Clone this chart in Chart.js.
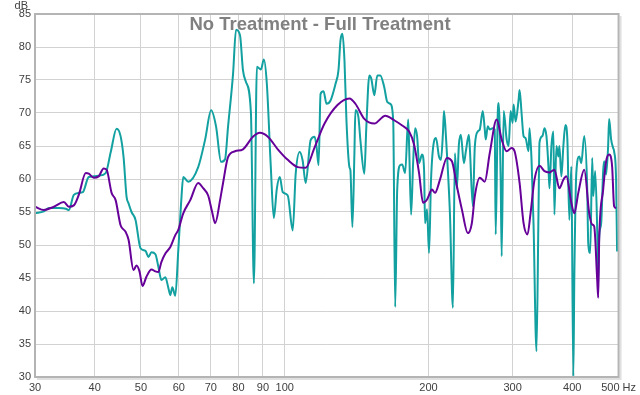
<!DOCTYPE html>
<html>
<head>
<meta charset="utf-8">
<script src="https://cdn.jsdelivr.net/npm/chart.js@4/dist/chart.umd.min.js"></script>
<style>
  body { margin: 0; background: #fff; }
</style>
</head>
<body>
<canvas id="chart1" width="640" height="395"></canvas>
<script>
const chartTitle = 'No Treatment - Full Treatment';
const yUnit = 'dB';
const xTicks = [30, 40, 50, 60, 70, 80, 90, 100, 200, 300, 400, 500];
const xTickLabels = ['30', '40', '50', '60', '70', '80', '90', '100', '200', '300', '400', '500 Hz'];

// no treatment minus full treatment, raw
const rawHz = [30.00, 31.32, 32.09, 33.66, 34.81, 35.32, 36.17, 37.05, 37.77, 38.87, 39.82, 40.78, 42.18, 43.20, 44.46, 45.32, 45.98, 46.65, 47.10, 47.78,
    48.71, 49.89, 51.10, 51.84, 52.59, 53.61, 54.38, 55.17, 56.24, 57.06, 57.61, 58.16, 59.00, 59.86, 60.73, 61.31, 62.81, 65.89, 68.14, 70.13,
    71.83, 73.57, 75.00, 76.08, 77.94, 79.07, 80.60, 81.76, 82.95, 84.96, 86.19, 87.44, 89.14, 90.43, 91.74, 93.51, 94.87, 96.25, 97.64, 99.05,
    101.46, 103.93, 105.43, 107.47, 109.02, 110.61, 113.30, 115.49, 116.61, 117.72, 118.86, 120.58, 122.33, 124.70, 127.73, 129.58, 130.84, 132.09, 133.37, 134.65,
    136.59, 137.25, 138.57, 139.91, 140.59, 142.63, 144.01, 146.79, 148.20, 150.36, 151.80, 154.01, 156.24, 158.51, 161.58, 163.92, 166.30, 168.70, 170.33, 171.97,
    174.47, 176.15, 178.70, 181.30, 182.16, 183.92, 185.69, 187.48, 189.29, 191.11, 193.89, 195.77, 196.69, 198.60, 200.51, 202.45, 205.38, 207.37, 210.36, 212.38,
    214.43, 215.47, 217.53, 219.63, 221.75, 224.97, 227.15, 229.32, 231.54, 233.77, 237.16, 239.44, 242.92, 244.09, 247.62, 250.02, 253.65, 256.08, 259.79, 262.30,
    263.56, 266.11, 268.66, 272.54, 275.19, 276.50, 279.17, 280.53, 283.22, 284.60, 287.34, 291.49, 294.30, 297.14, 300.00, 301.44, 304.35, 308.76, 310.26, 313.23,
    316.26, 319.32, 323.94, 325.50, 328.65, 331.80, 336.60, 339.84, 341.49, 346.44, 349.77, 353.16, 356.55, 358.29, 361.74, 365.22, 366.96, 370.50, 374.07, 375.87,
    379.49, 383.16, 386.86, 390.60, 394.34, 398.16, 402.01, 403.93, 407.82, 413.75, 417.71, 423.76, 429.91, 431.96, 436.15, 440.34, 442.45, 446.72, 451.06, 453.22,
    455.41, 459.78, 464.21, 466.43, 470.93, 475.47, 477.75, 482.37, 487.03, 489.36, 494.06, 496.44];
const rawDb = [54.8, 55.1, 55.6, 55.6, 55.5, 55.3, 57.6, 57.9, 58.0, 60.3, 60.4, 60.5, 60.9, 64.0, 67.6, 66.5, 63.3, 57.3, 56.3, 55.0,
    53.8, 49.5, 49.1, 48.2, 48.9, 48.6, 46.7, 44.7, 45.1, 43.5, 42.4, 43.6, 42.3, 49.2, 56.8, 60.3, 59.6, 61.8, 66.0, 70.4,
    67.9, 62.6, 63.0, 67.9, 75.9, 82.6, 81.8, 76.5, 74.7, 70.0, 44.2, 77.0, 76.6, 78.1, 74.4, 61.8, 54.1, 58.5, 60.3, 58.0,
    57.5, 52.2, 60.8, 64.1, 62.8, 59.4, 65.9, 66.4, 64.8, 62.1, 72.9, 73.3, 71.4, 71.9, 74.4, 76.5, 81.0, 82.0, 78.0, 68.9,
    61.8, 61.3, 52.7, 63.8, 70.4, 69.4, 65.9, 60.8, 67.9, 75.7, 75.2, 72.7, 75.7, 75.7, 73.9, 71.7, 71.4, 68.9, 40.6, 58.3,
    62.1, 62.2, 60.9, 69.0, 65.0, 54.6, 62.4, 67.7, 66.5, 62.4, 63.7, 61.4, 53.3, 55.4, 48.8, 59.9, 65.7, 66.2, 63.4, 62.9,
    67.0, 70.3, 66.5, 61.2, 54.8, 40.5, 63.9, 58.6, 65.2, 66.7, 62.4, 64.2, 66.7, 64.7, 55.9, 64.9, 67.2, 67.5, 70.3, 67.5,
    66.0, 68.0, 67.5, 67.7, 67.5, 51.6, 69.5, 71.5, 59.9, 48.3, 70.3, 66.0, 65.0, 70.3, 68.5, 71.3, 68.7, 72.0, 73.5, 70.0,
    66.5, 66.2, 64.2, 67.7, 62.9, 53.3, 33.9, 54.8, 65.5, 66.5, 67.7, 66.5, 61.9, 58.6, 65.0, 67.2, 54.6, 65.0, 63.4, 65.0,
    60.4, 65.0, 68.2, 66.0, 53.8, 61.9, 30.1, 45.0, 60.9, 63.4, 62.4, 66.5, 58.4, 50.3, 48.8, 63.2, 57.4, 61.2, 52.3, 44.5,
    51.3, 53.3, 61.2, 62.7, 60.7, 65.0, 69.1, 66.0, 64.7, 64.2, 59.9, 49.0];

// same, smoothed
const smoothHz = [30.00, 31.32, 32.87, 34.48, 35.32, 36.17, 37.05, 38.32, 38.87, 39.82, 40.78, 41.77, 42.38, 43.40, 44.25, 45.32, 46.42, 47.10, 48.24, 48.94,
    49.65, 50.37, 51.34, 52.59, 53.61, 54.38, 55.17, 56.24, 57.61, 59.00, 59.86, 61.31, 63.41, 65.89, 67.49, 69.13, 70.47, 71.49, 73.22, 74.28,
    76.08, 78.68, 81.76, 85.78, 88.71, 92.18, 96.71, 101.46, 106.44, 110.61, 115.49, 121.16, 128.96, 136.59, 140.59, 146.79, 154.01, 162.36, 169.52, 176.15,
    182.16, 186.58, 191.11, 194.82, 198.60, 203.41, 206.37, 211.37, 218.58, 223.89, 229.32, 234.89, 241.76, 246.45, 250.02, 256.08, 262.30, 268.66, 277.83, 284.60,
    291.49, 298.56, 302.88, 310.26, 316.26, 322.38, 327.06, 333.39, 341.49, 349.77, 358.29, 366.96, 375.87, 383.16, 388.71, 398.16, 403.93, 411.75, 423.76, 434.04,
    440.34, 444.60, 451.06, 453.22, 455.41, 464.21, 470.93, 477.75, 484.69, 489.36, 494.06];
const smoothDb = [55.8, 55.3, 55.8, 56.5, 55.8, 56.0, 57.6, 60.9, 60.8, 60.2, 60.4, 61.6, 61.4, 57.9, 56.8, 53.0, 52.0, 50.8, 46.2, 46.9,
    46.0, 43.8, 45.2, 46.3, 46.0, 45.9, 47.4, 48.7, 49.7, 51.5, 52.3, 54.8, 56.8, 59.4, 58.6, 57.5, 55.0, 53.3, 56.8, 59.4,
    63.3, 64.2, 64.5, 66.4, 67.0, 66.4, 64.5, 62.9, 61.8, 61.7, 64.8, 68.4, 71.2, 72.2, 71.4, 69.1, 68.4, 69.6, 68.9, 68.1,
    67.2, 65.2, 60.9, 56.4, 56.9, 58.4, 57.9, 59.9, 63.2, 62.7, 58.9, 55.4, 51.8, 53.3, 57.4, 60.2, 59.6, 63.9, 69.0, 66.0,
    64.2, 64.7, 64.2, 59.4, 53.3, 51.6, 54.8, 59.9, 62.0, 61.2, 61.0, 61.4, 58.6, 59.9, 60.4, 56.4, 54.8, 57.9, 61.4, 54.8,
    53.1, 52.8, 44.7, 42.0, 50.8, 58.4, 62.7, 63.7, 61.9, 55.9, 55.6];

const toPoints = (xs, ys) => xs.map((x, i) => ({ x: x, y: ys[i] }));

Chart.defaults.font.family = 'Arial, "Liberation Sans", sans-serif';
Chart.defaults.font.size = 11;
Chart.defaults.color = '#404040';

// plot frame, title and unit label sit on top of the plot area
const frame = {
    id: 'frame',
    afterDraw(chart) {
        const { ctx, chartArea: a } = chart;
        ctx.save();
        ctx.lineWidth = 2;
        ctx.strokeStyle = '#e0e0e0';
        ctx.beginPath();
        ctx.moveTo(a.right + 2, a.top + 2);
        ctx.lineTo(a.right + 2, a.bottom + 2);
        ctx.lineTo(a.left + 2, a.bottom + 2);
        ctx.stroke();
        ctx.strokeStyle = '#b4b4b4';
        ctx.strokeRect(a.left, a.top, a.right - a.left, a.bottom - a.top);

        ctx.fillStyle = '#808080';
        ctx.font = 'bold 18.5px Arial, "Liberation Sans", sans-serif';
        ctx.textAlign = 'center';
        ctx.textBaseline = 'alphabetic';
        ctx.fillText(chartTitle, chart.width / 2, 30);

        ctx.fillStyle = '#404040';
        ctx.font = '11px Arial, "Liberation Sans", sans-serif';
        ctx.textAlign = 'right';
        ctx.fillText(yUnit, a.left - 7, 9);
        ctx.restore();
    }
};

const config = {
    type: 'line',
    data: {
        datasets: [{
            label: 'smoothed',
            data: toPoints(smoothHz, smoothDb),
            borderColor: '#660099',
            borderWidth: 2,
            pointRadius: 0,
            cubicInterpolationMode: 'monotone',
        }, {
            label: 'raw',
            data: toPoints(rawHz, rawDb),
            borderColor: '#12a0a0',
            borderWidth: 2,
            pointRadius: 0,
            cubicInterpolationMode: 'monotone',
        }]
    },
    options: {
        responsive: false,
        animation: false,
        layout: {
            padding: { top: 14, right: 18, left: 0, bottom: 0 }
        },
        plugins: {
            legend: { display: false },
            tooltip: { enabled: false },
            title: { display: false }
        },
        scales: {
            x: {
                type: 'logarithmic',
                min: 30,
                max: 500,
                afterBuildTicks: (scale) => {
                    scale.ticks = xTicks.map(v => ({ value: v }));
                },
                afterFit: (scale) => {
                    scale.height = 18;
                },
                ticks: {
                    autoSkip: false,
                    maxRotation: 0,
                    padding: 4,
                    callback: (val) => xTickLabels[xTicks.indexOf(val)]
                },
                grid: {
                    color: '#d2d2d2',
                    drawTicks: false
                },
                border: { display: false }
            },
            y: {
                min: 30,
                max: 85,
                afterFit: (scale) => {
                    scale.width = 35;
                },
                ticks: {
                    stepSize: 5,
                    padding: 4
                },
                grid: {
                    color: '#d2d2d2',
                    drawTicks: false
                },
                border: { display: false }
            }
        }
    },
    plugins: [frame]
};

let chart1 = new Chart(
    document.getElementById('chart1'),
    config
);
</script>
</body>
</html>
